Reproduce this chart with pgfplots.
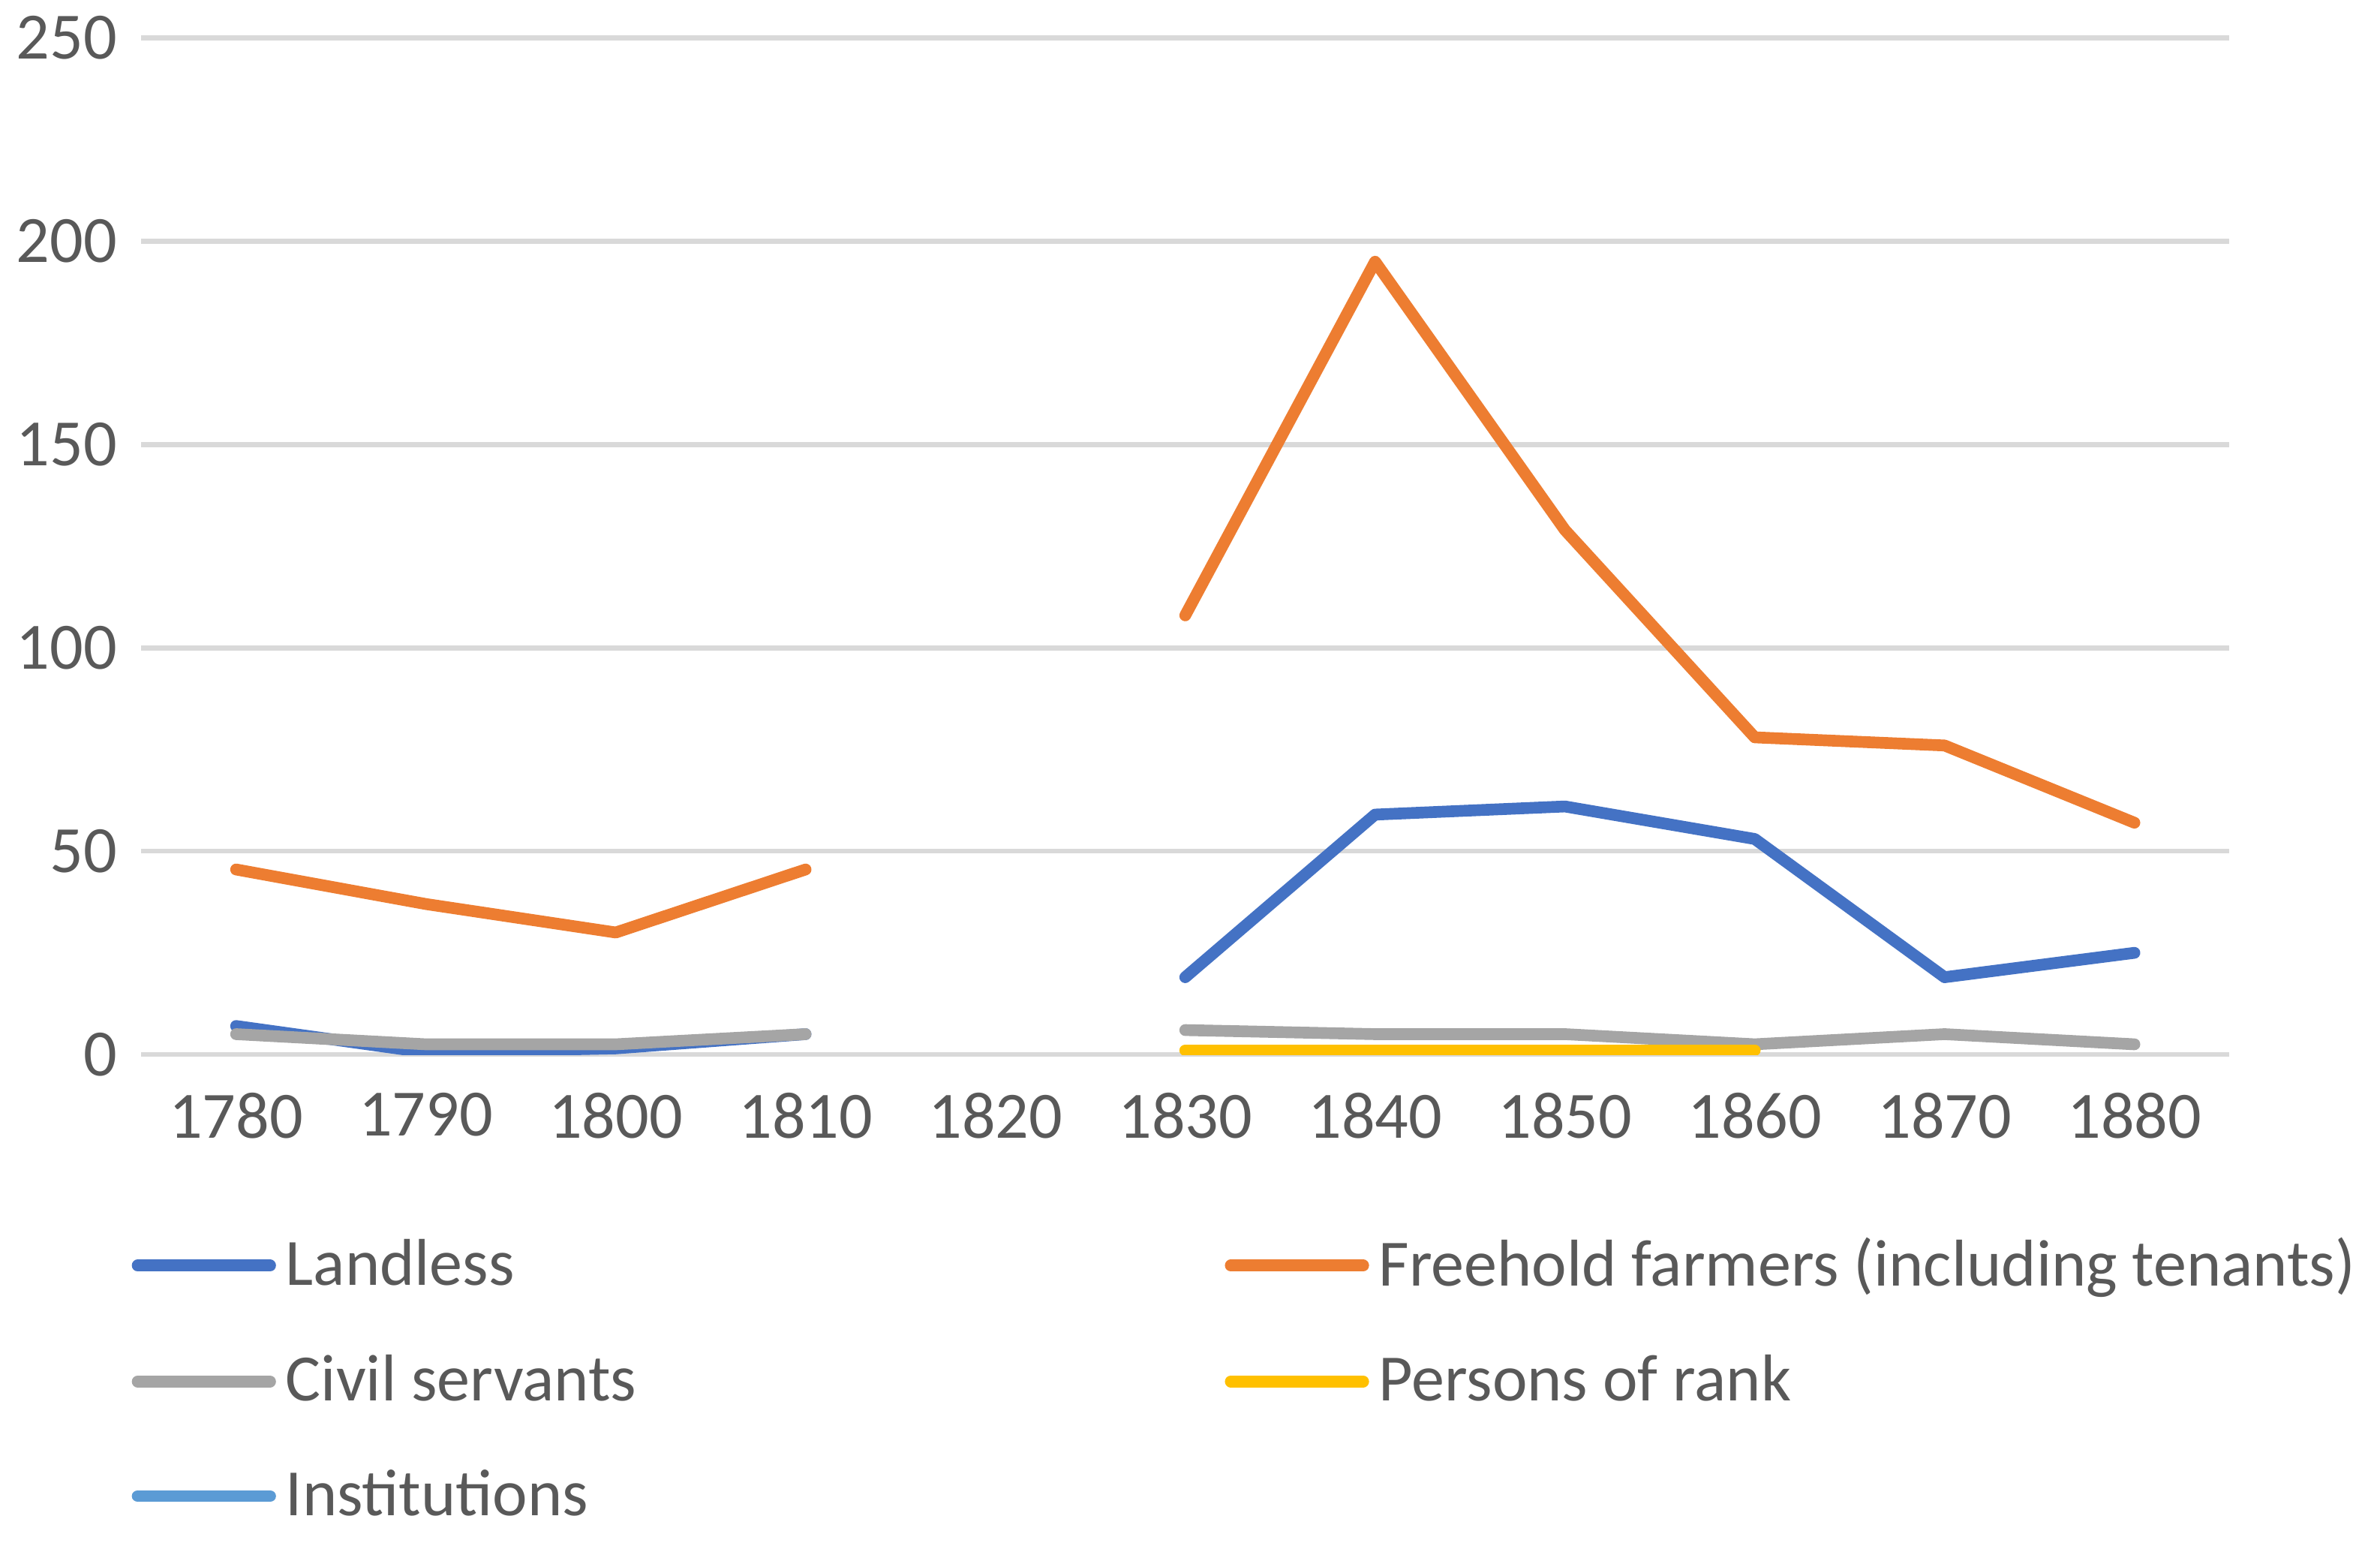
\documentclass[border=0pt]{standalone}
\usepackage{pgfplots}
\pgfplotsset{compat=1.18}
\usepackage{fontspec}
\setmainfont{Carlito}
\definecolor{cblue}{HTML}{4472C4}
\definecolor{corange}{HTML}{ED7D31}
\definecolor{cgray}{HTML}{A5A5A5}
\definecolor{cyellow}{HTML}{FFC000}
\definecolor{clblue}{HTML}{5B9BD5}
\definecolor{tgray}{HTML}{595959}
\begin{document}
\begin{tikzpicture}
\begin{axis}[
  scale only axis, width=14.98cm, height=7.29cm,
  xmin=-0.5, xmax=10.5, ymin=0, ymax=250,
  xtick={0,...,10},
  xticklabels={1780,1790,1800,1810,1820,1830,1840,1850,1860,1870,1880},
  ytick={0,50,...,250},
  ymajorgrids, grid style={line width=1pt, color=black!15},
  axis line style={draw=none}, tick style={draw=none},
  ticklabel style={font=\fontsize{13.5}{16}\selectfont, text=tgray},
  /pgf/number format/assume math mode=true,
  yticklabel style={xshift=-0.05cm},
  xticklabel style={yshift=-0.15cm},
  unbounded coords=jump,
  every axis plot/.append style={line width=2.4pt, line join=round, line cap=round},
  legend columns=2,
  legend cell align=left,
  legend style={at={(axis description cs:-0.012,-0.16)}, anchor=north west, draw=none,
    font=\fontsize{13.5}{16}\selectfont, text=tgray, row sep=0.3cm,
    /tikz/column 2/.style={column sep=4.15cm}},
  legend image code/.code={\draw[#1, line cap=round] (0cm,0cm) -- (0.95cm,0cm);},
]
\addplot[cblue] coordinates {(0,7)(1,0.5)(2,1.5)(3,5)(4,nan)(5,19)(6,59)(7,61)(8,53)(9,19)(10,25)};
\addlegendentry{Landless}
\addplot[corange] coordinates {(0,45.5)(1,37)(2,30)(3,45.5)(4,nan)(5,108)(6,195)(7,129)(8,78)(9,76)(10,57)};
\addlegendentry{Freehold farmers (including tenants)}
\addplot[cgray] coordinates {(0,5)(1,2.5)(2,2.5)(3,5)(4,nan)(5,6)(6,5)(7,5)(8,2.5)(9,5)(10,2.5)};
\addlegendentry{Civil servants}
\addplot[cyellow] coordinates {(5,1)(6,1)(7,1)(8,1)};
\addlegendentry{Persons of rank}
\addlegendimage{clblue}
\addlegendentry{Institutions}
\end{axis}
\end{tikzpicture}
\end{document}
